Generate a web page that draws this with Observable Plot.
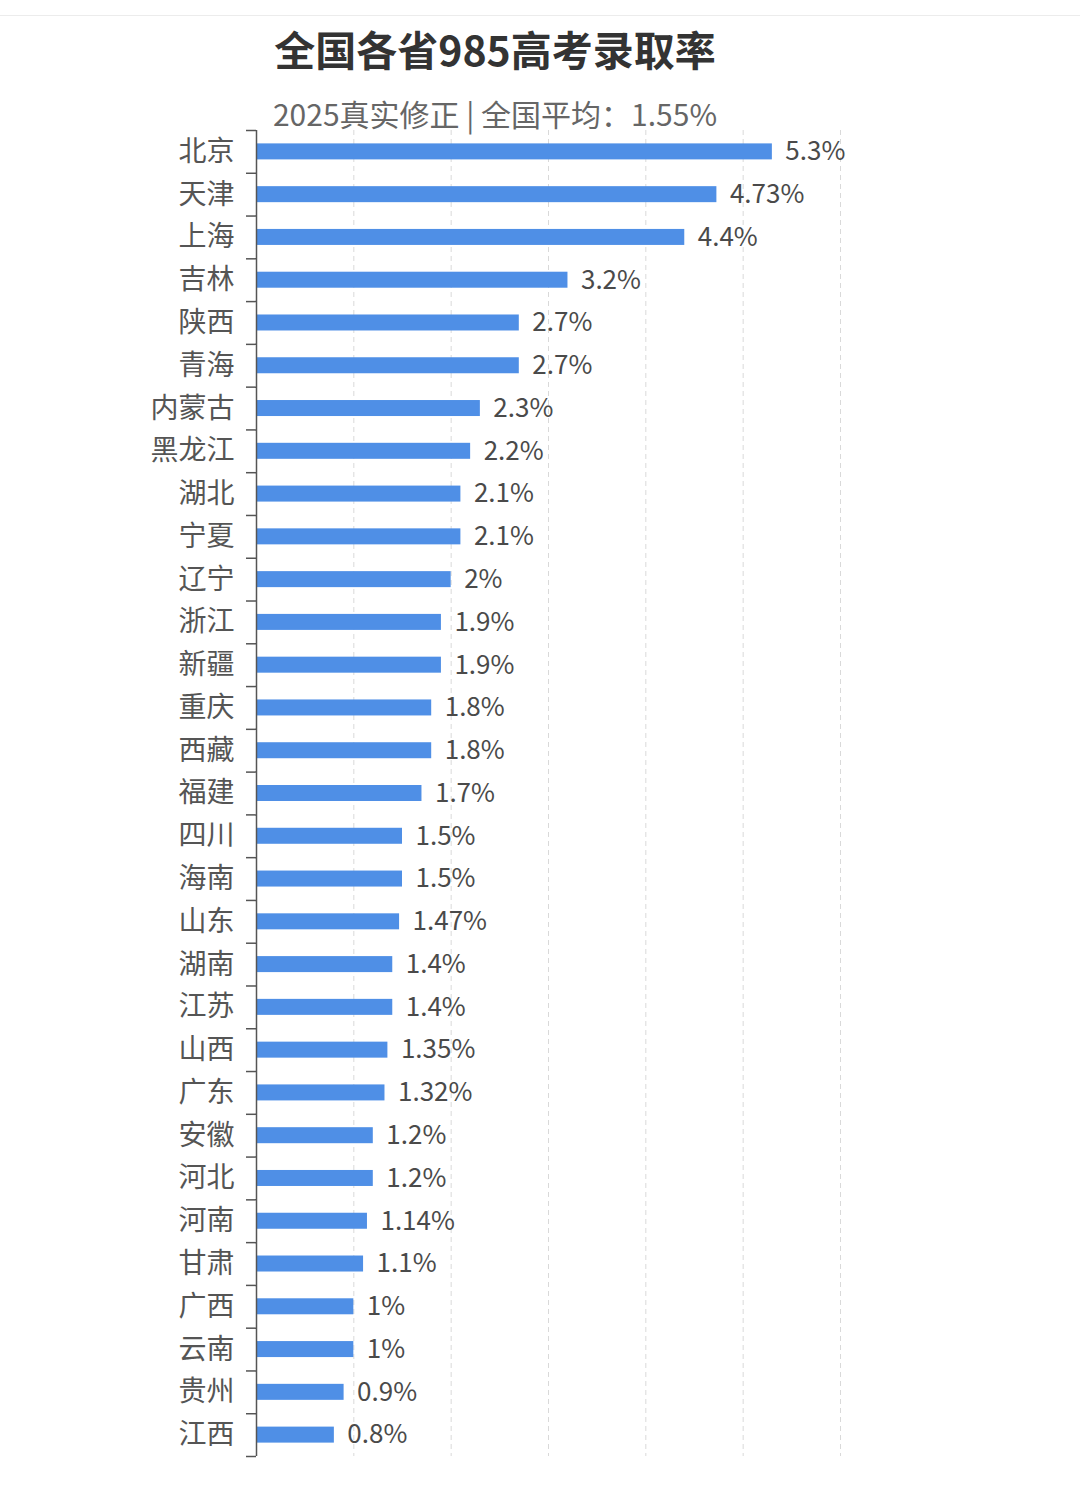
<!DOCTYPE html>
<html>
<head>
<meta charset="utf-8">
<script src="https://cdn.jsdelivr.net/npm/d3@7"></script>
<script src="https://cdn.jsdelivr.net/npm/@observablehq/plot@0.6"></script>
<style>
  html, body { margin: 0; padding: 0; background: #fff; }
  body { width: 1080px; height: 1492px; position: relative; overflow: hidden;
         font-family: "Noto Sans CJK SC", "Noto Sans", sans-serif; }
  #topline { position: absolute; left: 0; top: 15px; width: 1080px; height: 1px; background: #ececec; }
  #title { position: absolute; left: 0; top: 22px; width: 990px; text-align: center;
           font-size: 41px; font-weight: 700; color: #333; line-height: 52px; }
  #subtitle { position: absolute; left: 0; top: 94px; width: 990px; text-align: center;
              font-size: 30px; font-weight: 400; color: #666; line-height: 38px; }
  #chart { position: absolute; left: 0; top: 125px; }
  #chart svg { display: block; }
</style>
</head>
<body>
<div id="topline"></div>
<div id="title">全国各省985高考录取率</div>
<div id="subtitle">2025真实修正 | 全国平均：1.55%</div>
<div id="chart"></div>
<script>
const provinces = ["北京","天津","上海","吉林","陕西","青海","内蒙古","黑龙江","湖北","宁夏","辽宁","浙江","新疆","重庆","西藏","福建","四川","海南","山东","湖南","江苏","山西","广东","安徽","河北","河南","甘肃","广西","云南","贵州","江西"];
const rates = [5.3,4.73,4.4,3.2,2.7,2.7,2.3,2.2,2.1,2.1,2,1.9,1.9,1.8,1.8,1.7,1.5,1.5,1.47,1.4,1.4,1.35,1.32,1.2,1.2,1.14,1.1,1,1,0.9,0.8];
const gridTicks = [1,2,3,4,5,6];

const data = provinces.map((p, i) => ({province: p, rate: rates[i]}));

const width = 1080, height = 1345, marginTop = 5, marginBottom = 14;
const step = (height - marginTop - marginBottom) / provinces.length;
const inset = (step - 16) / 2;
const font = "'Noto Sans CJK SC', 'Noto Sans', sans-serif";

const chart = Plot.plot({
  width, height,
  marginTop, marginBottom,
  marginLeft: 256, marginRight: 240,
  style: {fontFamily: font, background: "transparent"},
  x: {domain: [0, 6], axis: null},
  y: {domain: provinces, padding: 0, round: false, axis: null},
  marks: [
    Plot.gridX(gridTicks, {stroke: "#d9d9d9", strokeOpacity: 1, strokeDasharray: "5,4"}),
    Plot.barX(data, {x: "rate", y: "province", fill: "#4f8fe6", insetTop: inset, insetBottom: inset}),
    Plot.text(data, {x: "rate", y: "province", text: d => d.rate + "%", textAnchor: "start", dx: 13,
                     fontSize: 26, fill: "#4a4a4a", fontFamily: font}),
    Plot.axisY({tickSize: 0, tickPadding: 22, fontSize: 28, color: "#555", fontFamily: font, label: null}),
    Plot.axisY({tickSize: 10, text: null, label: null, dy: -step / 2, stroke: "#555", strokeWidth: 1.5}),
    Plot.axisY({ticks: [provinces[provinces.length - 1]], tickSize: 10, text: null, label: null, dy: step / 2, stroke: "#555", strokeWidth: 1.5}),
    Plot.ruleX([0], {stroke: "#555", strokeWidth: 1.5})
  ]
});
document.getElementById("chart").appendChild(chart);
</script>
</body>
</html>
